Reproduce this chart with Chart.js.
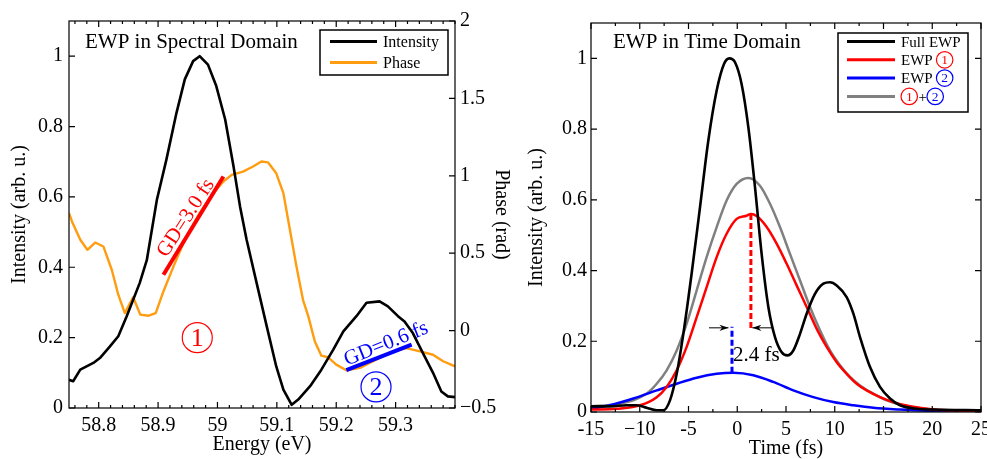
<!DOCTYPE html>
<html>
<head>
<meta charset="utf-8">
<script src="https://cdn.jsdelivr.net/npm/chart.js@4.4.1/dist/chart.umd.min.js"></script>
<style>
html,body{margin:0;padding:0;background:#fff;overflow:hidden;}
#wrap{position:relative;width:987px;height:459px;background:#fff;}
#wrap canvas{position:absolute;top:0;}
</style>
</head>
<body>
<div id="wrap">
<canvas id="spec" width="520" height="459" style="left:0px;width:520px;height:459px"></canvas>
<canvas id="time" width="467" height="459" style="left:520px;width:467px;height:459px"></canvas>
</div>
<script>
// ---------------- Left panel: EWP in spectral domain ----------------
const energyI = [58.750,58.757,58.769,58.791,58.802,58.819,58.833,58.847,58.869,58.881,58.898,58.914,58.931,58.945,58.959,58.970,58.984,58.998,59.013,59.027,59.038,59.049,59.066,59.083,59.099,59.111,59.125,59.136,59.156,59.175,59.195,59.212,59.234,59.251,59.273,59.287,59.304,59.315,59.329,59.346,59.363,59.377,59.388,59.400];
const intensitySpec = [0.080,0.076,0.109,0.128,0.142,0.175,0.204,0.260,0.355,0.420,0.592,0.706,0.839,0.934,0.986,1.000,0.976,0.915,0.820,0.687,0.573,0.479,0.355,0.232,0.118,0.052,0.009,0.024,0.062,0.109,0.166,0.218,0.261,0.299,0.303,0.289,0.261,0.246,0.213,0.156,0.100,0.047,0.033,0.031];
const energyP = [58.750,58.755,58.769,58.781,58.794,58.808,58.822,58.833,58.844,58.858,58.870,58.884,58.896,58.909,58.926,58.945,58.970,58.993,59.010,59.024,59.043,59.060,59.074,59.085,59.099,59.111,59.122,59.133,59.144,59.153,59.164,59.175,59.186,59.200,59.217,59.240,59.262,59.296,59.318,59.341,59.363,59.380,59.400];
const phase = [0.759,0.705,0.587,0.522,0.569,0.543,0.393,0.232,0.113,0.215,0.103,0.096,0.113,0.253,0.415,0.587,0.759,0.888,0.963,1.006,1.027,1.060,1.092,1.087,1.016,0.888,0.651,0.415,0.199,0.092,-0.070,-0.162,-0.172,-0.220,-0.256,-0.241,-0.198,-0.134,-0.113,-0.134,-0.156,-0.198,-0.231];
const gd1Energy = [58.909, 59.010];
const gd1Phase = [0.361, 0.995];
const gd2Energy = [59.217, 59.327];
const gd2Phase = [-0.256, -0.091];

const xTicksSpec = [58.8, 58.9, 59, 59.1, 59.2, 59.3];
const xLabelsSpec = ['58.8', '58.9', '59', '59.1', '59.2', '59.3'];
const yTicksInt = [0, 0.2, 0.4, 0.6, 0.8, 1];
const yLabelsInt = ['0', '0.2', '0.4', '0.6', '0.8', '1'];
const yTicksPhase = [-0.5, 0, 0.5, 1, 1.5, 2];
const yLabelsPhase = ['\u22120.5', '0', '0.5', '1', '1.5', '2'];

// ---------------- Right panel: EWP in time domain ----------------
const timeFull = [-15,-13.05,-11.34,-10.3,-9.29,-8.26,-7.58,-6.9,-6.21,-5.53,-4.68,-3.82,-2.97,-2.11,-1.36,-0.81,-0.23,0.45,1.14,1.82,2.5,3.19,3.87,4.56,5.14,5.75,6.44,7.12,7.97,8.83,9.51,10.2,11.22,11.91,12.59,13.62,14.64,15.67,16.69,18.4,20.1,25];
const fullEWP = [0.016,0.016,0.019,0.019,0.012,0.005,0.005,0.033,0.108,0.221,0.391,0.579,0.767,0.909,0.984,1.0,0.989,0.927,0.805,0.636,0.447,0.297,0.212,0.169,0.16,0.174,0.221,0.278,0.334,0.363,0.367,0.358,0.325,0.278,0.212,0.127,0.071,0.038,0.019,0.009,0.007,0.005];
const timeE1 = [-15,-12.37,-9.97,-8.26,-7.24,-6.21,-5.19,-4.16,-3.14,-2.11,-1.09,-0.06,0.96,1.4,1.99,3.02,4.04,5.07,6.09,7.12,8.15,9.17,10.2,11.22,12.25,13.27,14.64,16.0,17.72,20.1,25];
const ewp1 = [0.007,0.009,0.019,0.042,0.071,0.118,0.184,0.268,0.353,0.438,0.504,0.546,0.555,0.56,0.554,0.523,0.476,0.419,0.358,0.297,0.235,0.184,0.141,0.108,0.08,0.061,0.042,0.028,0.016,0.007,0.002];
const timeE2 = [-15,-13.05,-10.66,-8.26,-6.21,-4.16,-2.11,-0.4,1.65,3.7,5.75,7.8,9.85,11.91,13.96,16.69,20.1,25];
const ewp2 = [0.009,0.019,0.038,0.061,0.08,0.097,0.108,0.111,0.104,0.085,0.061,0.042,0.028,0.019,0.012,0.007,0.003,0.001];
const timeSum = [-15,-12.37,-10.66,-9.29,-8.26,-7.24,-6.21,-5.19,-4.16,-3.14,-2.11,-1.09,-0.06,1.14,2.33,3.36,4.38,5.41,6.44,7.46,8.49,9.51,10.54,11.56,12.59,13.96,15.33,17.03,19.09,21.82,25];
const sum12 = [0.016,0.022,0.033,0.052,0.08,0.118,0.174,0.25,0.344,0.438,0.523,0.598,0.645,0.662,0.64,0.589,0.523,0.447,0.372,0.297,0.231,0.174,0.132,0.099,0.075,0.052,0.033,0.019,0.009,0.005,0.003];
const peak1Time = [1.4, 1.4];
const peak1Y = [0.56, 0.232];
const peak2Time = [-0.54, -0.54];
const peak2Y = [0.111, 0.241];

const xTicksTime = [-15, -10, -5, 0, 5, 10, 15, 20, 25];
const xLabelsTime = ['-15', '\u221210', '-5', '0', '5', '10', '15', '20', '25'];

// ---------------- helpers ----------------
const FONT = "'Liberation Serif', 'Times New Roman', Times, serif";
Chart.defaults.font.family = FONT;
Chart.defaults.font.size = 20;
Chart.defaults.color = '#000';

const CIRCLED = {'\u2460': {d: '1', c: '#ff0000'}, '\u2461': {d: '2', c: '#0000ff'}};

function zip(xs, ys) { return xs.map((x, i) => ({x: x, y: ys[i]})); }

function drawCircled(ctx, cx, cy, r, digit, color, size) {
  ctx.save();
  ctx.strokeStyle = color; ctx.fillStyle = color; ctx.lineWidth = 1.2;
  ctx.beginPath(); ctx.arc(cx, cy, r, 0, Math.PI * 2); ctx.stroke();
  ctx.font = size + 'px ' + FONT; ctx.textAlign = 'center'; ctx.textBaseline = 'middle';
  ctx.fillText(digit, cx, cy + size * 0.05);
  ctx.restore();
}

function drawRich(ctx, text, x, y, size, color) {
  const r = size * 0.55;
  let cx = x, run = '';
  ctx.save();
  ctx.font = size + 'px ' + FONT; ctx.textBaseline = 'alphabetic'; ctx.textAlign = 'left'; ctx.fillStyle = color;
  const flush = () => { if (run) { ctx.fillText(run, cx, y); cx += ctx.measureText(run).width; run = ''; } };
  for (const ch of text) {
    const c = CIRCLED[ch];
    if (c) { flush(); drawCircled(ctx, cx + r, y - size * 0.35, r, c.d, c.c, size * 0.9); cx += 2 * r + 1; }
    else run += ch;
  }
  flush();
  ctx.restore();
}

function axis(o) {
  return {
    type: 'linear', position: o.position, min: o.min, max: o.max, bounds: 'data',
    grid: {display: false, drawTicks: false}, border: {display: false},
    ticks: {autoSkip: false, maxRotation: 0, minRotation: 0, padding: o.pad, font: {size: 20},
            callback: (v, i) => o.labels[i]},
    afterBuildTicks: s => { s.ticks = o.values.map(v => ({value: v})); },
    afterFit: s => {
      if (o.w != null) s.width = o.w;
      if (o.h != null) s.height = o.h;
      s.paddingLeft = 0; s.paddingRight = 0; s.paddingTop = 0; s.paddingBottom = 0;
    },
    title: {display: true, text: o.title, font: {size: 20, lineHeight: 1}, padding: o.titlePad}
  };
}

function makeOverlay(cfg) {
  return {
    id: 'overlay',
    afterDatasetsDraw(chart) {
      const ctx = chart.ctx, a = chart.chartArea;
      // annotations
      cfg.notes.forEach(n => {
        const xs = chart.scales[n.xAxis || 'x'], ys = chart.scales[n.yAxis || 'y'];
        ctx.save();
        if (n.type === 'text') {
          const px = xs.getPixelForValue(n.x), py = ys.getPixelForValue(n.y);
          ctx.translate(px, py); ctx.rotate((n.rot || 0) * Math.PI / 180);
          ctx.font = n.size + 'px ' + FONT; ctx.fillStyle = n.color;
          ctx.textAlign = n.align || 'center'; ctx.textBaseline = 'middle';
          ctx.fillText(n.text, 0, 0);
        } else if (n.type === 'circled') {
          const c = CIRCLED[n.text];
          drawCircled(ctx, xs.getPixelForValue(n.x), ys.getPixelForValue(n.y), n.r, c.d, c.c, n.size);
        } else if (n.type === 'arrow') {
          const x0 = xs.getPixelForValue(n.x0), y0 = ys.getPixelForValue(n.y0);
          const x1 = xs.getPixelForValue(n.x1), y1 = ys.getPixelForValue(n.y1);
          const ang = Math.atan2(y1 - y0, x1 - x0), L = 9, W = 3.2;
          ctx.strokeStyle = '#000'; ctx.fillStyle = '#000'; ctx.lineWidth = 1;
          ctx.beginPath(); ctx.moveTo(x0, y0); ctx.lineTo(x1, y1); ctx.stroke();
          ctx.beginPath();
          ctx.moveTo(x1, y1);
          ctx.lineTo(x1 - L * Math.cos(ang) + W * Math.sin(ang), y1 - L * Math.sin(ang) - W * Math.cos(ang));
          ctx.lineTo(x1 - L * 0.7 * Math.cos(ang), y1 - L * 0.7 * Math.sin(ang));
          ctx.lineTo(x1 - L * Math.cos(ang) - W * Math.sin(ang), y1 - L * Math.sin(ang) + W * Math.cos(ang));
          ctx.closePath(); ctx.fill();
        }
        ctx.restore();
      });
      // frame with inward ticks
      ctx.save();
      ctx.strokeStyle = '#000'; ctx.lineWidth = 1.2;
      ctx.strokeRect(a.left, a.top, a.right - a.left, a.bottom - a.top);
      ctx.beginPath();
      const xs = chart.scales.x;
      const tick = (v, len) => {
        const p = xs.getPixelForValue(v);
        ctx.moveTo(p, a.bottom); ctx.lineTo(p, a.bottom - len);
        ctx.moveTo(p, a.top); ctx.lineTo(p, a.top + len);
      };
      const st = cfg.minorStep;
      for (let k = Math.ceil(xs.min / st - 1e-9); k * st <= xs.max + 1e-9; k++) tick(k * st, 3);
      cfg.xMajor.forEach(v => tick(v, 6));
      const yl = chart.scales[cfg.yLeft.axis], yr = chart.scales[cfg.yRight.axis];
      cfg.yLeft.values.forEach(v => { const p = yl.getPixelForValue(v); ctx.moveTo(a.left, p); ctx.lineTo(a.left + 6, p); });
      cfg.yRight.values.forEach(v => { const p = yr.getPixelForValue(v); ctx.moveTo(a.right, p); ctx.lineTo(a.right - 6, p); });
      ctx.stroke();
      ctx.restore();
      // panel title
      ctx.save();
      ctx.font = '21px ' + FONT; ctx.fillStyle = '#000'; ctx.textAlign = 'left'; ctx.textBaseline = 'alphabetic';
      ctx.fillText(cfg.title, a.left + cfg.titleDx, a.top + cfg.titleDy);
      ctx.restore();
      // legend box
      const L = cfg.legend;
      const bx = a.right - L.right - L.w, by = a.top + L.top;
      ctx.save();
      ctx.fillStyle = '#fff'; ctx.fillRect(bx, by, L.w, L.h);
      ctx.strokeStyle = '#000'; ctx.lineWidth = 1.5; ctx.strokeRect(bx, by, L.w, L.h);
      const items = chart.data.datasets.filter(d => d.label[0] !== '_');
      items.forEach((d, i) => {
        const y = by + L.rowTop + i * L.rowGap;
        ctx.strokeStyle = d.borderColor; ctx.lineWidth = 3;
        ctx.beginPath(); ctx.moveTo(bx + L.lineX0, y); ctx.lineTo(bx + L.lineX0 + L.lineLen, y); ctx.stroke();
        drawRich(ctx, d.label, bx + L.textX, y + L.size * 0.35, L.size, '#000');
      });
      ctx.restore();
    }
  };
}

const baseOpts = {
  responsive: false, animation: false, devicePixelRatio: 1,
  plugins: {legend: {display: false}, tooltip: {enabled: false}},
  elements: {point: {radius: 0, hoverRadius: 0}, line: {tension: 0, borderWidth: 2.5, fill: false, borderJoinStyle: 'round'}}
};

// ---------------- Left chart ----------------
new Chart(document.getElementById('spec'), {
  type: 'line',
  data: {datasets: [
    {label: 'Intensity', data: zip(energyI, intensitySpec), yAxisID: 'y', borderColor: '#000000', borderWidth: 2.6},
    {label: 'Phase', data: zip(energyP, phase), yAxisID: 'y1', borderColor: '#FF9C10', borderWidth: 2.4},
    {label: '_GD1', data: zip(gd1Energy, gd1Phase), yAxisID: 'y1', borderColor: '#ff0000', borderWidth: 4, order: -1},
    {label: '_GD2', data: zip(gd2Energy, gd2Phase), yAxisID: 'y1', borderColor: '#0000ff', borderWidth: 4, order: -1}
  ]},
  options: Object.assign({}, baseOpts, {
    layout: {padding: {top: 21, left: 0, right: 0, bottom: 0}},
    scales: {
      x: axis({position: 'bottom', min: 58.75, max: 59.4, values: xTicksSpec, labels: xLabelsSpec, h: 51, pad: 6,
               title: 'Energy (eV)', titlePad: {top: 0, bottom: 4}}),
      y: axis({position: 'left', min: 0, max: 1.1, values: yTicksInt, labels: yLabelsInt, w: 69, pad: 6,
               title: 'Intensity (arb. u.)', titlePad: {top: 10, bottom: 0}}),
      y1: axis({position: 'right', min: -0.5, max: 2, values: yTicksPhase, labels: yLabelsPhase, w: 65, pad: 5,
                title: 'Phase (rad)', titlePad: {top: 9, bottom: 0}})
    }
  }),
  plugins: [makeOverlay({
    title: 'EWP in Spectral Domain', titleDx: 16, titleDy: 27,
    xMajor: xTicksSpec, minorStep: 0.02,
    yLeft: {axis: 'y', values: yTicksInt}, yRight: {axis: 'y1', values: yTicksPhase},
    legend: {right: 7, top: 9, w: 128, h: 45, rowTop: 11.5, rowGap: 21, lineX0: 10, lineLen: 47, textX: 63, size: 16},
    notes: [
      {type: 'text', text: 'GD=3.0 fs', x: 58.947, y: 0.727, yAxis: 'y1', rot: -57, size: 21, color: '#ff0000'},
      {type: 'text', text: 'GD=0.6 fs', x: 59.284, y: -0.087, yAxis: 'y1', rot: -22, size: 21, color: '#0000ff'},
      {type: 'circled', text: '\u2460', x: 58.966, y: 0.2, r: 15, size: 26},
      {type: 'circled', text: '\u2461', x: 59.267, y: 0.06, r: 15, size: 26}
    ]
  })]
});

// ---------------- Right chart ----------------
const smooth = {cubicInterpolationMode: 'monotone'};
new Chart(document.getElementById('time'), {
  type: 'line',
  data: {datasets: [
    Object.assign({label: 'Full EWP', data: zip(timeFull, fullEWP), borderColor: '#000000', borderWidth: 2.6}, smooth),
    Object.assign({label: 'EWP \u2460', data: zip(timeE1, ewp1), borderColor: '#ff0000'}, smooth),
    Object.assign({label: 'EWP \u2461', data: zip(timeE2, ewp2), borderColor: '#0000ff'}, smooth),
    Object.assign({label: '\u2460+\u2461', data: zip(timeSum, sum12), borderColor: '#808080'}, smooth),
    {label: '_peak1', data: zip(peak1Time, peak1Y), borderColor: '#ff0000', borderWidth: 3, borderDash: [6, 3], order: -1},
    {label: '_peak2', data: zip(peak2Time, peak2Y), borderColor: '#0000ff', borderWidth: 3, borderDash: [6, 3], order: -1}
  ]},
  options: Object.assign({}, baseOpts, {
    layout: {padding: {top: 23, left: 0, right: 6, bottom: 0}},
    scales: {
      x: axis({position: 'bottom', min: -15, max: 25, values: xTicksTime, labels: xLabelsTime, h: 47, pad: 6,
               title: 'Time (fs)', titlePad: {top: 0, bottom: 0}}),
      y: axis({position: 'left', min: 0, max: 1.1, values: yTicksInt, labels: yLabelsInt, w: 71, pad: 4,
               title: 'Intensity (arb. u.)', titlePad: {top: 7, bottom: 0}})
    }
  }),
  plugins: [makeOverlay({
    title: 'EWP in Time Domain', titleDx: 22, titleDy: 25,
    xMajor: xTicksTime, minorStep: 2.5,
    yLeft: {axis: 'y', values: yTicksInt}, yRight: {axis: 'y', values: yTicksInt},
    legend: {right: 13, top: 10, w: 130, h: 79, rowTop: 8.5, rowGap: 18.3, lineX0: 9, lineLen: 48, textX: 63, size: 15},
    notes: [
      {type: 'arrow', x0: -2.9, y0: 0.238, x1: -0.9, y1: 0.238},
      {type: 'arrow', x0: 3.56, y0: 0.238, x1: 1.55, y1: 0.238},
      {type: 'text', text: '2.4 fs', x: -0.44, y: 0.161, align: 'left', size: 21, color: '#000'}
    ]
  })]
});
</script>
</body>
</html>
